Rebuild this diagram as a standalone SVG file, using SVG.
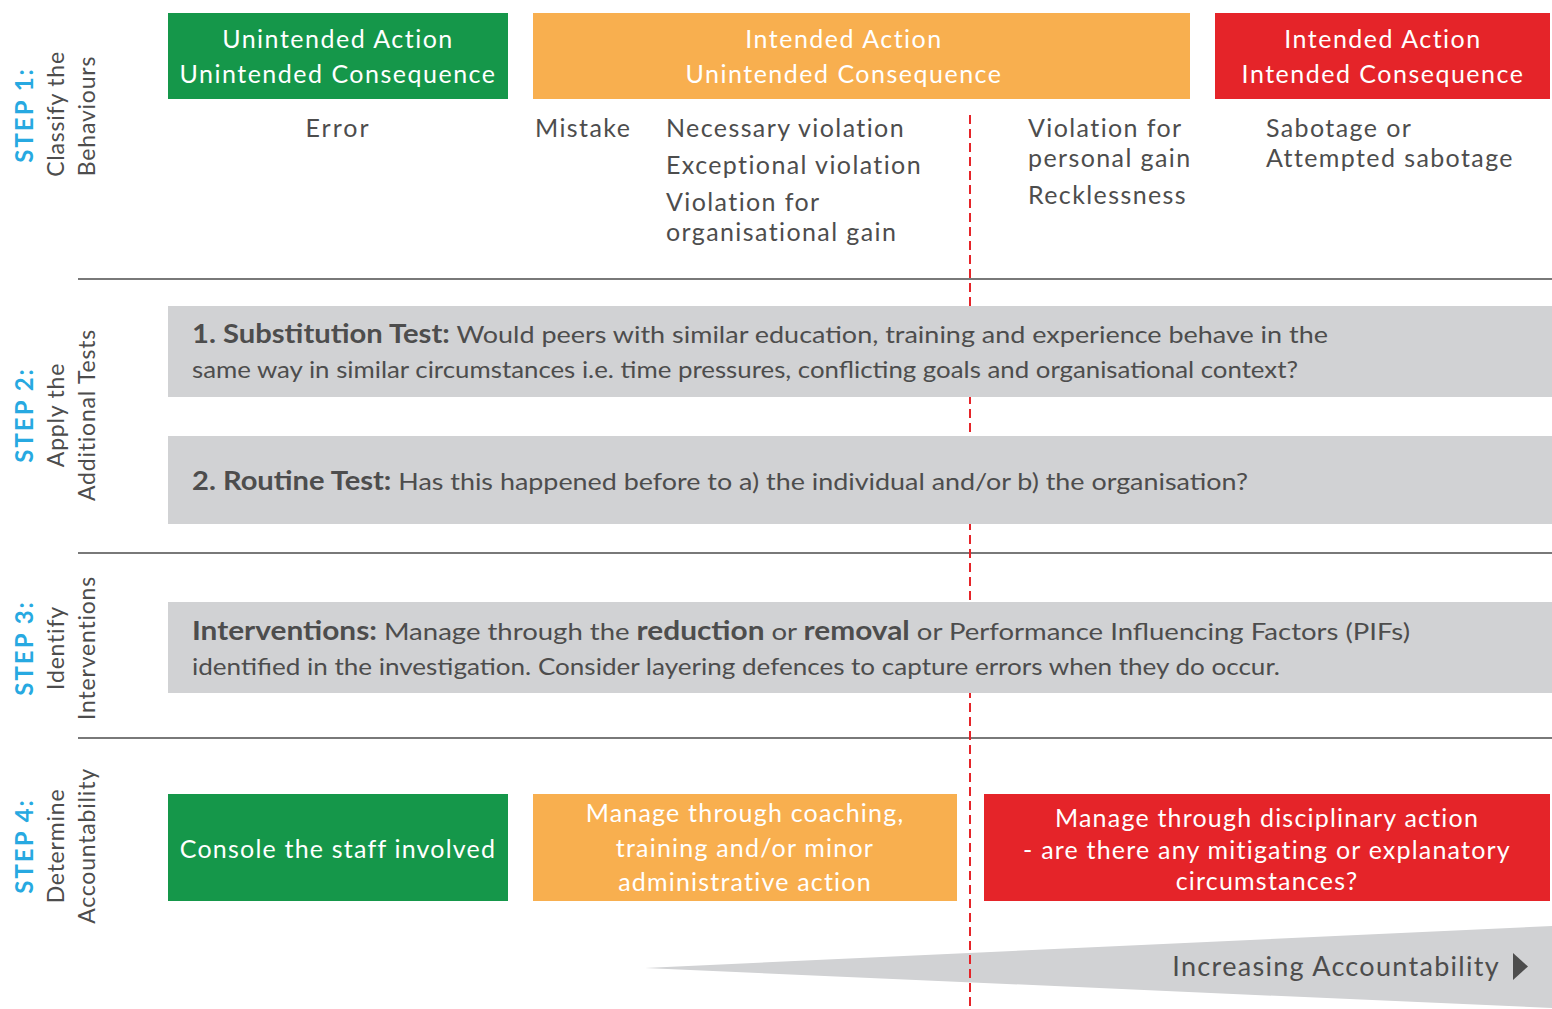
<svg xmlns="http://www.w3.org/2000/svg" width="1552" height="1009" viewBox="0 0 1552 1009">
<defs>
<style>
text{font-family:Lato,"Open Sans","Liberation Sans",sans-serif;}
.hd{fill:#fff;font-size:25px;text-anchor:middle;letter-spacing:1.5px;}
.wt{fill:#fff;font-size:25px;text-anchor:middle;letter-spacing:1.2px;}
.bt{fill:#4d4d4d;font-size:25px;letter-spacing:1.4px;}
.gt{fill:#4d4d4d;font-size:24px;}
.b{font-weight:bold;}
.step{fill:#27a9e1;font-size:24px;font-weight:bold;text-anchor:middle;letter-spacing:2px;}
.sl{fill:#4d4d4d;font-size:23px;text-anchor:middle;letter-spacing:0.8px;}
.sep{stroke:#4d4d4d;stroke-width:1.5;}
.green{fill:#15974a;}
.orange{fill:#f8af4f;}
.red{fill:#e52429;}
.grey{fill:#d1d2d4;}
</style>
</defs>
<g id="background"><rect width="1552" height="1009" fill="#fff"/></g>

<g id="separators">
<line class="sep" x1="78" y1="279" x2="1552" y2="279"/>
<line class="sep" x1="78" y1="553" x2="1552" y2="553"/>
<line class="sep" x1="78" y1="738" x2="1552" y2="738"/>
</g>

<g id="step1-label">
<text class="step" transform="translate(33,115) rotate(-90)">STEP 1:</text>
<text class="sl" transform="translate(64,114) rotate(-90)">Classify the</text>
<text class="sl" transform="translate(95,116) rotate(-90)">Behaviours</text>
</g>
<g id="step2-label">
<text class="step" transform="translate(33,415) rotate(-90)">STEP 2:</text>
<text class="sl" transform="translate(64,415) rotate(-90)">Apply the</text>
<text class="sl" transform="translate(95,415) rotate(-90)">Additional Tests</text>
</g>
<g id="step3-label">
<text class="step" transform="translate(33,648) rotate(-90)">STEP 3:</text>
<text class="sl" transform="translate(64,648) rotate(-90)">Identify</text>
<text class="sl" transform="translate(95,648) rotate(-90)">Interventions</text>
</g>
<g id="step4-label">
<text class="step" transform="translate(33,846) rotate(-90)">STEP 4:</text>
<text class="sl" transform="translate(64,846) rotate(-90)">Determine</text>
<text class="sl" transform="translate(95,846) rotate(-90)">Accountability</text>
</g>

<g id="accountability-wedge">
<polygon class="grey" points="645,968 1552,926 1552,1008"/>
<text class="bt" x="1500" y="976" text-anchor="end" style="font-size:27px;letter-spacing:1.3px">Increasing Accountability</text>
<polygon points="1513,953 1528,966.5 1513,980" fill="#4d4d4d"/>
</g>

<g id="connectors">
<line x1="970" y1="115" x2="970" y2="1009" stroke="#e52429" stroke-width="2" stroke-dasharray="9,5"/>
</g>

<g id="header-unintended">
<rect class="green" x="168" y="13" width="340" height="86"/>
<text class="hd" x="338" y="48">Unintended Action</text>
<text class="hd" x="338" y="83">Unintended Consequence</text>
</g>
<g id="header-intended-unintended">
<rect class="orange" x="533" y="13" width="657" height="86"/>
<text class="hd" x="844" y="48">Intended Action</text>
<text class="hd" x="844" y="83">Unintended Consequence</text>
</g>
<g id="header-intended">
<rect class="red" x="1215" y="13" width="335" height="86"/>
<text class="hd" x="1383" y="48">Intended Action</text>
<text class="hd" x="1383" y="83">Intended Consequence</text>
</g>

<g id="behaviour-error"><text class="bt" x="338" y="137" text-anchor="middle" style="letter-spacing:2px">Error</text></g>
<g id="behaviour-mistake"><text class="bt" x="535" y="137">Mistake</text></g>
<g id="behaviour-violations">
<text class="bt" x="666" y="137">Necessary violation</text>
<text class="bt" x="666" y="174">Exceptional violation</text>
<text class="bt" x="666" y="211">Violation for</text>
<text class="bt" x="666" y="241">organisational gain</text>
</g>
<g id="behaviour-personal">
<text class="bt" x="1028" y="137">Violation for</text>
<text class="bt" x="1028" y="167">personal gain</text>
<text class="bt" x="1028" y="204">Recklessness</text>
</g>
<g id="behaviour-sabotage">
<text class="bt" x="1266" y="137">Sabotage or</text>
<text class="bt" x="1266" y="167">Attempted sabotage</text>
</g>

<g id="substitution-test">
<rect class="grey" x="168" y="306" width="1384" height="91"/>
<text class="gt" x="192" y="343" textLength="1136" lengthAdjust="spacingAndGlyphs"><tspan class="b" style="font-size:26px">1. Substitution Test:</tspan> Would peers with similar education, training and experience behave in the</text>
<text class="gt" x="192" y="378" textLength="1106" lengthAdjust="spacingAndGlyphs">same way in similar circumstances i.e. time pressures, conflicting goals and organisational context?</text>
</g>
<g id="routine-test">
<rect class="grey" x="168" y="436" width="1384" height="88"/>
<text class="gt" x="192" y="490" textLength="1056" lengthAdjust="spacingAndGlyphs"><tspan class="b" style="font-size:26px">2. Routine Test:</tspan> Has this happened before to a) the individual and/or b) the organisation?</text>
</g>
<g id="interventions">
<rect class="grey" x="168" y="602" width="1384" height="91"/>
<text class="gt" x="192" y="640" textLength="1218" lengthAdjust="spacingAndGlyphs"><tspan class="b" style="font-size:26px">Interventions:</tspan> Manage through the <tspan class="b" style="font-size:26px">reduction</tspan> or <tspan class="b" style="font-size:26px">removal</tspan> or Performance Influencing Factors (PIFs)</text>
<text class="gt" x="192" y="675" textLength="1088" lengthAdjust="spacingAndGlyphs">identified in the investigation. Consider layering defences to capture errors when they do occur.</text>
</g>

<g id="console">
<rect class="green" x="168" y="794" width="340" height="107"/>
<text class="wt" x="338" y="858">Console the staff involved</text>
</g>
<g id="coaching">
<rect class="orange" x="533" y="794" width="424" height="107"/>
<text class="wt" x="745" y="822">Manage through coaching,</text>
<text class="wt" x="745" y="857">training and/or minor</text>
<text class="wt" x="745" y="891">administrative action</text>
</g>
<g id="disciplinary">
<rect class="red" x="984" y="794" width="566" height="107"/>
<text class="wt" x="1267" y="827">Manage through disciplinary action</text>
<text class="wt" x="1267" y="859">- are there any mitigating or explanatory</text>
<text class="wt" x="1267" y="890">circumstances?</text>
</g>
</svg>
